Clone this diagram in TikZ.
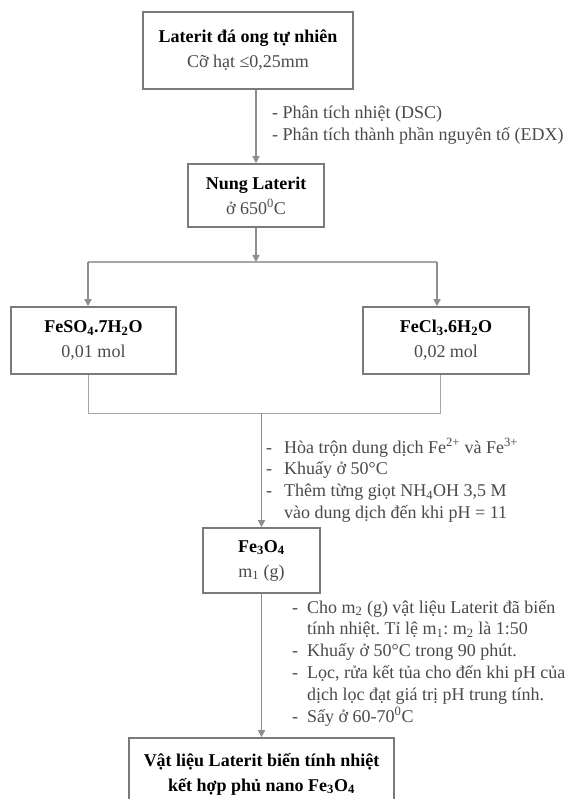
\documentclass[tikz,border=0pt]{standalone}
\usepackage{fontspec}
\setmainfont{Liberation Serif}
\usetikzlibrary{arrows.meta,calc}
\definecolor{boxgray}{HTML}{7A7A7A}
\definecolor{linegray}{HTML}{8E8E8E}
\definecolor{txtgray}{HTML}{4A4A4A}
\newcommand{\tsub}[1]{\textsubscript{#1}}
\newcommand{\tsup}[1]{\textsuperscript{#1}}
\frenchspacing
\begin{document}
\begin{tikzpicture}[x=1pt,y=-1pt]
        \tikzstyle{stage}=[rectangle,draw=boxgray,line width=1.6pt,fill=white,align=center,inner sep=0pt,font=\fontsize{18}{25}\selectfont,text=txtgray]
        \tikzstyle{flow}=[draw=linegray,line width=1.3pt,-{Triangle[length=7pt,width=7pt]}]
        \tikzstyle{split}=[draw=linegray!80,line width=1pt]
        \tikzstyle{note}=[anchor=base west,inner sep=0pt,text=txtgray,font=\fontsize{18}{21.8}\selectfont]
        \useasboundingbox[fill=white] (0,0) rectangle (571,799);
       \begin{scope}
         \node [stage,minimum width=210pt,minimum height=77pt] (lat) at (248,50.5) {\textbf{\color{black}Laterit đá ong tự nhiên}\\Cỡ hạt ≤0,25mm};
         \node [stage,minimum width=136pt,minimum height=63pt] (nung) at (256,195.5) {\textbf{\color{black}Nung Laterit}\\ở 650\tsup{0}C};
         \node [stage,minimum width=165pt,minimum height=67pt] (feso) at (93.5,340.5) {\textbf{\color{black}FeSO\tsub{4}.7H\tsub{2}O}\\0,01 mol};
         \node [stage,minimum width=166pt,minimum height=67pt] (fecl) at (446,340.5) {\textbf{\color{black}FeCl\tsub{3}.6H\tsub{2}O}\\0,02 mol};
         \node [stage,minimum width=117pt,minimum height=65pt] (fe3o4) at (261.5,560.5) {\textbf{\color{black}Fe\tsub{3}O\tsub{4}}\\m\tsub{1} (g)};
         \node [stage,minimum width=265pt,minimum height=72pt] (final) at (261.5,774) {\textbf{\color{black}Vật liệu Laterit biến tính nhiệt}\\\textbf{\color{black}kết hợp phủ nano Fe\tsub{3}O\tsub{4}}};

         \node [note] (dsc) at (272,119) {\begin{tabular}[t]{@{}l@{}}- Phân tích nhiệt (DSC)\\- Phân tích thành phần nguyên tố (EDX)\end{tabular}};
         \node [note] (mix) at (266,453) {\begin{tabular}[t]{@{}l@{\hspace{12pt}}l@{}}-&Hòa trộn dung dịch Fe\tsup{2+} và Fe\tsup{3+}\\-&Khuấy ở 50°C\\-&Thêm từng giọt NH\tsub{4}OH 3,5 M\\&vào dung dịch đến khi pH = 11\end{tabular}};
         \node [note] (coat) at (292,613) {\begin{tabular}[t]{@{}l@{\hspace{9pt}}l@{}}-&Cho m\tsub{2} (g) vật liệu Laterit đã biến\\&tính nhiệt. Tỉ lệ m\tsub{1}: m\tsub{2} là 1:50\\-&Khuấy ở 50°C trong 90 phút.\\-&Lọc, rửa kết tủa cho đến khi pH của\\&dịch lọc đạt giá trị pH trung tính.\\-&Sấy ở 60-70\tsup{0}C\end{tabular}};

         \coordinate (sl) at (88,262);
         \coordinate (sr) at (437,262);
         \coordinate (cl) at (88,413);
         \coordinate (cr) at (440,413);

         \path[flow] (lat.south -| nung.north) -- (nung.north);
         \path[flow] (nung.south) -- (nung.south |- sl);
         \path[split] (sl) -- (sr);
         \path[flow] (sl) -- (sl |- feso.north);
         \path[flow] (sr) -- (sr |- fecl.north);
         \path[split] (feso.south -| cl) -- (cl) -- (cr) -- (fecl.south -| cr);
         \path[flow] (fe3o4.north |- cl) -- (fe3o4.north);
         \path[flow] (fe3o4.south) -- (final.north);
        \end{scope}
      \end{tikzpicture}
\end{document}
